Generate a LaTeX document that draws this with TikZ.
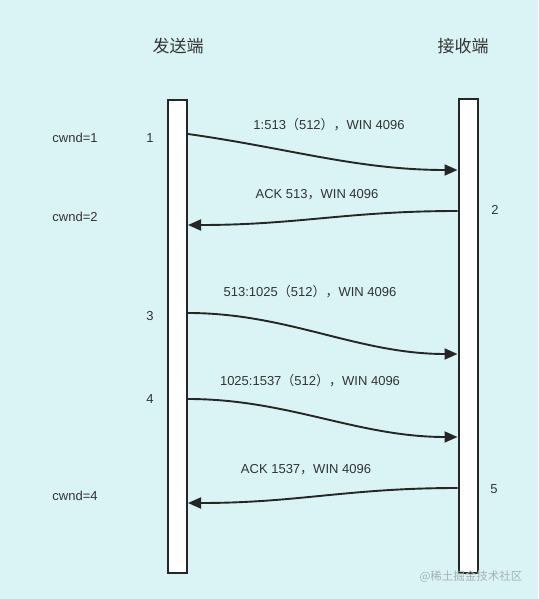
\documentclass[tikz,border=0pt]{standalone}
\usepackage{fontspec}
\setmainfont{Liberation Sans}
\newfontfamily\cjk{Noto Sans CJK SC}
\usetikzlibrary{arrows.meta}

\definecolor{bgcyan}{RGB}{218,244,245}
\definecolor{ink}{RGB}{51,51,51}
\definecolor{wmgray}{RGB}{165,178,180}

\tikzset{
  bar/.style={draw=black!85, line width=2pt, fill=white, inner sep=0pt,
    minimum width=19pt, minimum height=473pt},
  msg/.style={line width=1.9pt, draw=black!85,
    -{Triangle[length=13pt,width=11pt]}},
  lbl/.style={text=ink, inner sep=0pt, font=\fontsize{13}{15}\selectfont},
  title/.style={text=ink, inner sep=0pt, font=\cjk\fontsize{17}{19}\selectfont}
}

\begin{document}
\begin{tikzpicture}[x=1pt, y=-1pt]
        \useasboundingbox[fill=bgcyan] (0,0) rectangle (538,599);
        % hosts
        \node[title] (sndT) at (178,46) {发送端};
        \node[title] (rcvT) at (463,46) {接收端};
        \node[bar] (snd) at (177.5,336.5) {};
        \node[bar] (rcv) at (468,336) {};
        % segments
        \draw[msg] (snd.east |- 0,134) .. controls +(100,14) and +(-100,0) .. (rcv.west |- 0,170);
        \draw[msg] (rcv.west |- 0,211) .. controls +(-110,0) and +(110,0) .. (snd.east |- 0,225);
        \draw[msg] (snd.east |- 0,313) .. controls +(100,0) and +(-100,0) .. (rcv.west |- 0,354);
        \draw[msg] (snd.east |- 0,399) .. controls +(100,0) and +(-100,0) .. (rcv.west |- 0,437);
        \draw[msg] (rcv.west |- 0,488) .. controls +(-110,0) and +(110,0) .. (snd.east |- 0,503);
        % labels
        \node[lbl] (m1) at (329,125) {1:513{\cjk （}512{\cjk ）}{\cjk ，}WIN 4096};
        \node[lbl] (m2) at (317,195) {ACK 513{\cjk ，}WIN 4096};
        \node[lbl] (m3) at (310,292) {513:1025{\cjk （}512{\cjk ）}{\cjk ，}WIN 4096};
        \node[lbl] (m4) at (310,381) {1025:1537{\cjk （}512{\cjk ）}{\cjk ，}WIN 4096};
        \node[lbl] (m5) at (306,470) {ACK 1537{\cjk ，}WIN 4096};
        % steps and windows
        \node[lbl] (n1) at (150,138) {1};
        \node[lbl] (n2) at (495,210) {2};
        \node[lbl] (n3) at (150,316) {3};
        \node[lbl] (n4) at (150,399) {4};
        \node[lbl] (n5) at (494,489) {5};
        \node[lbl] (w1) at (75,138) {cwnd=1};
        \node[lbl] (w2) at (75,217) {cwnd=2};
        \node[lbl] (w4) at (75,496) {cwnd=4};
        \node[text=wmgray, inner sep=0pt, font=\cjk\fontsize{11.5}{13}\selectfont] (wm) at (471,577) {@稀土掘金技术社区};
    \end{tikzpicture}
\end{document}
